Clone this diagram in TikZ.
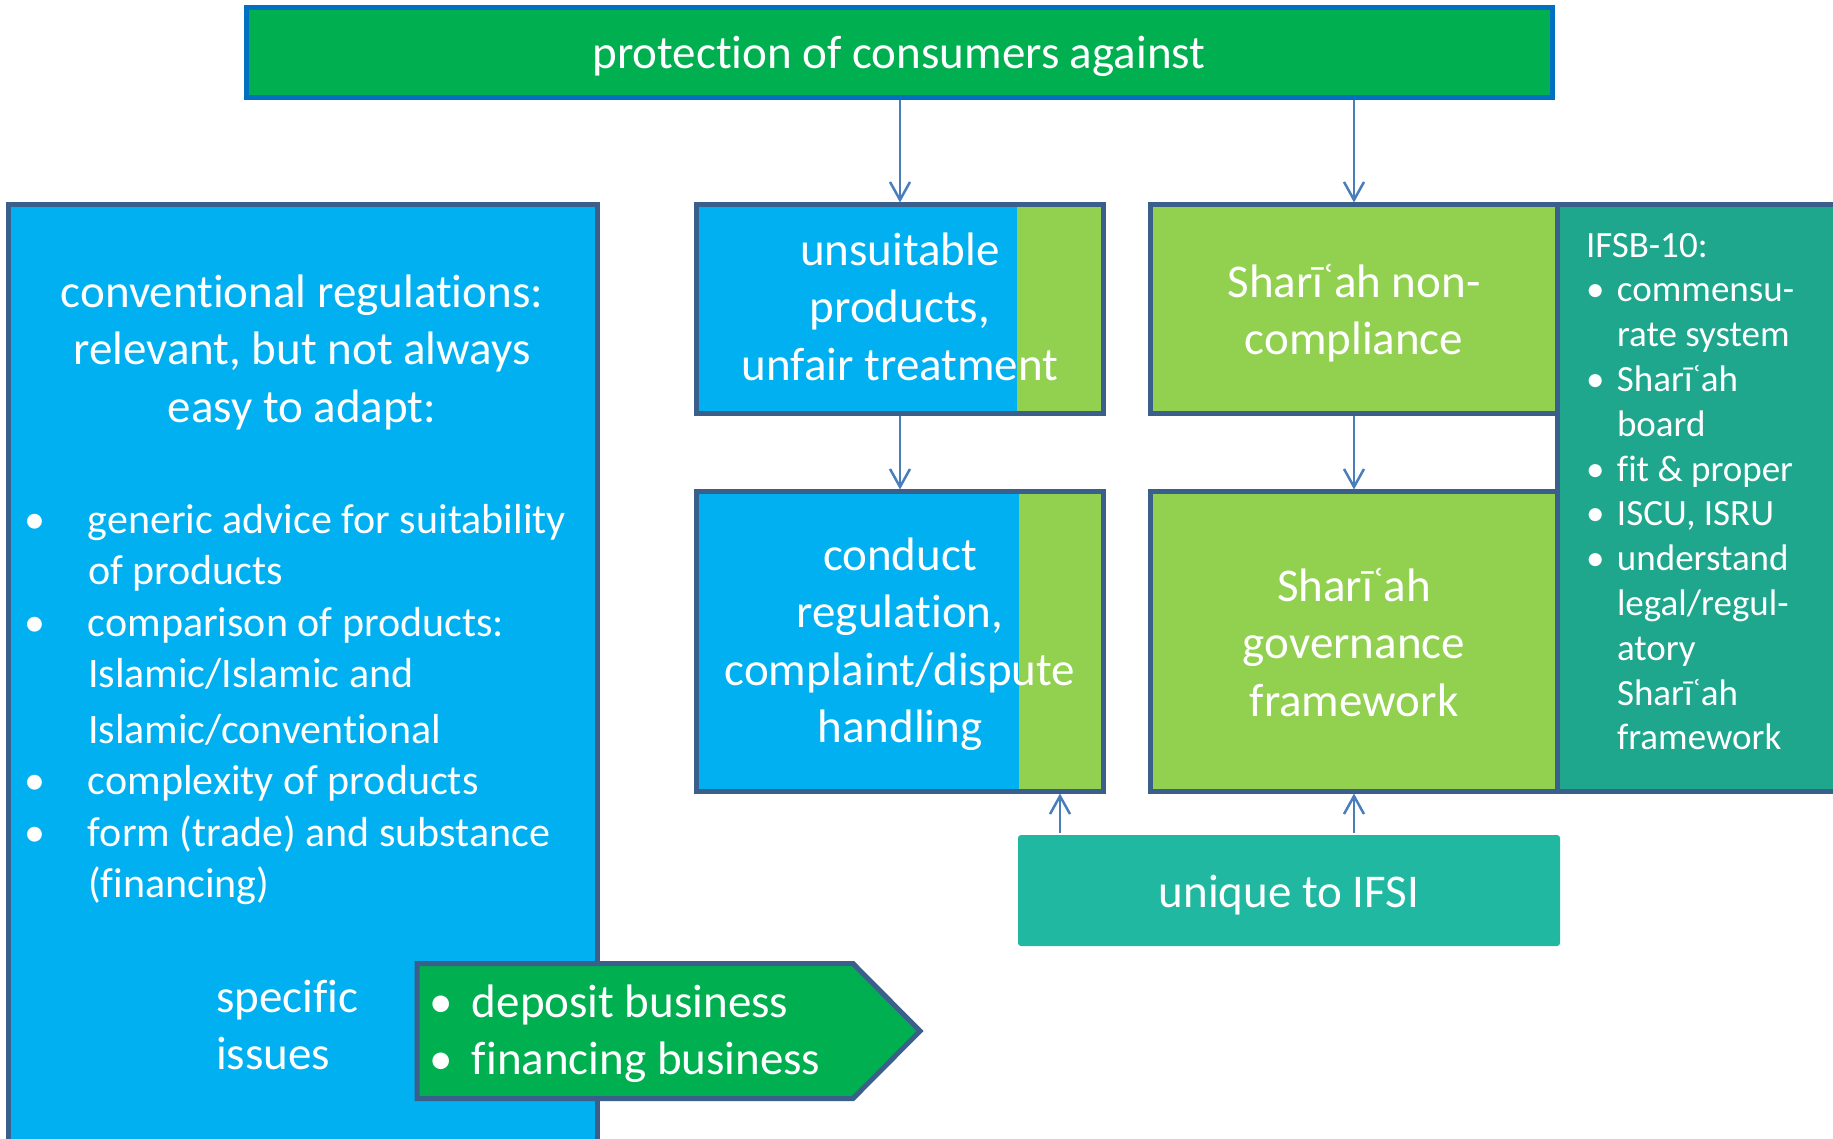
\documentclass[tikz,border=0pt]{standalone}
\usepackage{fontspec}
\setmainfont{Carlito}[Ligatures=NoCommon]
\usetikzlibrary{arrows.meta,calc}
\definecolor{topgreen}{HTML}{00B050}
\definecolor{topblue}{HTML}{0070C0}
\definecolor{skyblue}{HTML}{00B0F0}
\definecolor{lgreen}{HTML}{92D050}
\definecolor{tealdark}{HTML}{1FA78E}
\definecolor{teallight}{HTML}{20B8A0}
\definecolor{bdr}{HTML}{3A5F8B}
\definecolor{arrcol}{HTML}{4A7EBB}
\newcommand{\bulL}[1]{\makebox[64pt][l]{•}#1}
\newcommand{\indL}[1]{\hspace*{64pt}#1}
\newcommand{\bulS}[1]{\makebox[31pt][l]{•}#1}
\newcommand{\indS}[1]{\hspace*{31pt}#1}
\newcommand{\bulB}[1]{\makebox[43pt][l]{•}#1}
\begin{document}
\begin{tikzpicture}[x=1pt,y=-1pt,
  box/.style={draw=bdr,line width=5pt,inner sep=0pt,outer sep=0pt,anchor=north west},
  txt/.style={text=white,inner sep=0pt,outer sep=0pt,align=center,anchor=base,font=\fontsize{47}{57.5}\selectfont},
  ltxt/.style={txt,align=left,anchor=base west},
  arr/.style={draw=arrcol,line width=2.5pt,-{Straight Barb[length=18pt,width=20pt]},shorten >=2pt,shorten <=2.5pt},
]
\useasboundingbox (0,0) rectangle (1833,1138);
\clip (0,0) rectangle (1833,1138);

% left block (text nodes anchored at the baseline of their last line)
\node[box,fill=skyblue,minimum width=589pt,minimum height=960pt] (conv) at (8,204.5) {};
\node[txt] (convh) at (302,422) {conventional regulations:\\relevant, but not always\\easy to adapt:};
\node[ltxt,font=\fontsize{42}{51.5}\selectfont] (convl) at (24,897.5)
  {\bulL{generic advice for suitability}\\\indL{of products}\\\bulL{comparison of products:}\\\indL{Islamic/Islamic and}\\[4pt]\indL{Islamic/conventional}\\\bulL{complexity of products}\\\bulL{form (trade) and substance}\\\indL{(financing)}};
\node[ltxt] (spec) at (216,1069.5) {specific\\issues};

% pentagon
\draw[fill=topgreen,draw=bdr,line width=5pt,line join=miter]
  (417,963.5) -- (853,963.5) -- (920,1031) -- (853,1098.5) -- (417,1098.5) -- cycle;
\node[ltxt] (biz) at (429,1074.5) {\bulB{deposit business}\\\bulB{financing business}};

% top box
\node[box,draw=topblue,fill=topgreen,minimum width=1306.5pt,minimum height=89.5pt] (top) at (246,7.5) {};
\node[txt] (toptxt) at (899,68) {protection of consumers against};

% unsuitable
\node[box,fill=skyblue,minimum width=407pt,minimum height=209pt] (uns) at (696.5,204.5) {};
\fill[lgreen] (1017,207) rectangle (1101,411);
\node[txt] (unstxt) at (900,380) {unsuitable\\products,\\unfair treatment};

% conduct
\node[box,fill=skyblue,minimum width=407pt,minimum height=300pt] (cond) at (696.5,491.5) {};
\fill[lgreen] (1019,494) rectangle (1101,789);
\node[txt] (condtxt) at (900,742.5) {conduct\\regulation,\\complaint/dispute\\handling};

% shariah boxes
\node[box,fill=lgreen,minimum width=407pt,minimum height=209pt] (snc) at (1150.5,204.5) {};
\node[txt] (snctxt) at (1354,354.5) {Sharīʿah non-\\compliance};
\node[box,fill=lgreen,minimum width=407pt,minimum height=300pt] (gov) at (1150.5,491.5) {};
\node[txt] (govtxt) at (1354,716) {Sharīʿah\\governance\\framework};

% IFSB-10
\node[box,fill=tealdark,minimum width=300pt,minimum height=587pt] (ifsb) at (1557.5,204.5) {};
\node[ltxt,font=\fontsize{37}{44.8}\selectfont] (ifsbtxt) at (1586,749.8)
  {IFSB-10:\\\bulS{commensu-}\\\indS{rate system}\\\bulS{Sharīʿah}\\\indS{board}\\\bulS{fit \& proper}\\\bulS{ISCU, ISRU}\\\bulS{understand}\\\indS{legal/regul-}\\\indS{atory}\\\indS{Sharīʿah}\\\indS{framework}};

% unique
\node[fill=teallight,rounded corners=3pt,minimum width=542pt,minimum height=111pt,anchor=north west,inner sep=0pt,outer sep=0pt] (uniq) at (1018,835) {};
\node[txt] (uniqtxt) at (1289,907) {unique to IFSI};

% connectors
\draw[arr] (top.south -| uns.north) -- (uns.north);
\draw[arr] (top.south -| snc.north) -- (snc.north);
\draw[arr] (uns.south) -- (cond.north);
\draw[arr] (snc.south) -- (gov.north);
\draw[arr] ([xshift=42pt]uniq.north west) -- ([xshift=42pt]uniq.north west |- cond.south);
\draw[arr] (uniq.north -| gov.south) -- (gov.south);
\end{tikzpicture}
\end{document}
